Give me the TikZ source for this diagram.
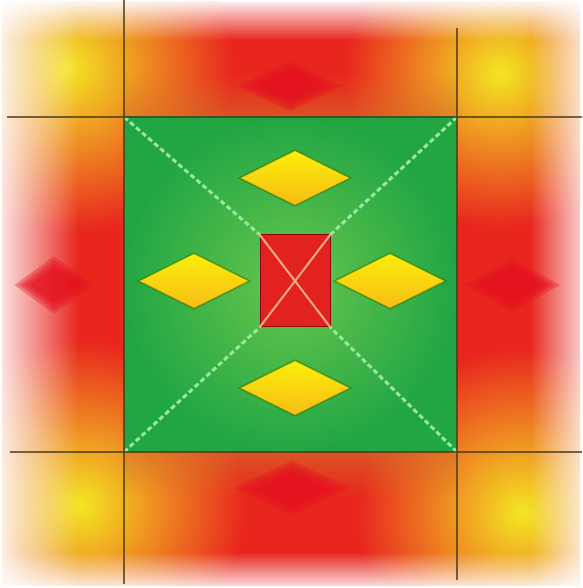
\documentclass[tikz,border=0pt]{standalone}
\usepackage{xcolor}
\usepackage{tikz}
\usetikzlibrary{shapes.geometric, fadings}

\definecolor{bandred}{RGB}{232,38,30}
\definecolor{bandorange}{RGB}{212,118,42}
\definecolor{cornyellow}{RGB}{244,230,36}
\definecolor{sqgreen}{RGB}{34,166,68}
\definecolor{sqlight}{RGB}{104,198,76}
\definecolor{diayellow}{RGB}{252,238,10}
\definecolor{diaorange}{RGB}{246,188,22}
\definecolor{markred}{RGB}{228,16,30}
\definecolor{corered}{RGB}{226,34,30}
\definecolor{xpale}{RGB}{246,172,128}
\definecolor{diagreen}{RGB}{150,232,160}
\definecolor{gridcol}{RGB}{70,58,24}

\tikzfading[name=whiteleft, left color=transparent!0, right color=transparent!100]
\tikzfading[name=whiteright, left color=transparent!100, right color=transparent!0]
\tikzfading[name=whitetop, top color=transparent!0, bottom color=transparent!100]
\tikzfading[name=whitebottom, top color=transparent!100, bottom color=transparent!0]

\begin{document}
\begin{tikzpicture}[x=1pt, y=1pt,
    square/.style={rectangle, inner sep=0pt, outer sep=0pt, minimum width=333pt, minimum height=335pt,
                   inner color=sqlight, outer color=sqgreen},
    core/.style={rectangle, inner sep=0pt, minimum width=70pt, minimum height=92pt,
                 fill=corered, draw=red!55!black, line width=1pt},
    gem/.style={diamond, inner sep=0pt, minimum width=112pt, minimum height=56pt,
                top color=diayellow, bottom color=diaorange,
                draw=green!35!black, draw opacity=0.45, line width=1.5pt},
    hotmark/.style={diamond, inner sep=0pt, fill=markred, fill opacity=0.35},
    gridline/.style={draw=gridcol, draw opacity=0.75, line width=2pt},
    diag/.style={draw=diagreen, line width=3pt, dash pattern=on 5pt off 3pt},
    cross/.style={draw=xpale, line width=2pt}
]
\useasboundingbox[fill=white] (0,0) rectangle (582,588);

% heat band round the square
\begin{scope}
  \clip (2,2) rectangle (580,586);
  \fill[bandred] (2,2) rectangle (580,586);
  \shade[inner color=cornyellow, outer color=bandred] (68,520) circle (165);
  \shade[inner color=cornyellow, outer color=bandred] (500,515) circle (155);
  \shade[inner color=cornyellow, outer color=bandred] (80,83) circle (165);
  \shade[inner color=cornyellow, outer color=bandred] (522,75) circle (165);
  \fill[bandorange, path fading=whitebottom, fill opacity=0.8] (124,450) rectangle (457,515);
  \fill[bandorange, path fading=whitetop, fill opacity=0.8] (124,90) rectangle (457,155);
\end{scope}

% soft outer edges
\fill[white, path fading=whiteleft] (-10,0) rectangle (78,588);
\fill[white, path fading=whiteright] (530,0) rectangle (595,588);
\fill[white, path fading=whitetop] (0,548) rectangle (582,590);
\fill[white, path fading=whitebottom] (0,-5) rectangle (582,36);

% blurred hot marks
\foreach \k in {1.2,1.05,0.9,0.75} {
  \node[hotmark, minimum width=\k*88pt, minimum height=\k*42pt] at (290,502) {};
  \node[hotmark, minimum width=\k*66pt, minimum height=\k*48pt] at (54,303) {};
  \node[hotmark, minimum width=\k*80pt, minimum height=\k*44pt] at (512,303) {};
  \node[hotmark, minimum width=\k*96pt, minimum height=\k*46pt] at (292,100) {};
}

% green square with core and four gems
\node[square] (sq) at (290.5,303.5) {};
\node[core] (core) at (295,307) {};
\draw[diag] (sq.north west) -- (core.north west);
\draw[diag] (sq.north east) -- (core.north east);
\draw[diag] (sq.south west) -- (core.south west);
\draw[diag] (sq.south east) -- (core.south east);
\draw[cross] (core.north west) -- (core.south east);
\draw[cross] (core.north east) -- (core.south west);

\node[gem] (gtop) at (295,410) {};
\node[gem] (gleft) at (194,307) {};
\node[gem] (gright) at (390,307) {};
\node[gem] (gbottom) at (295,200) {};

% grid lines
\draw[gridline] (124,588) -- (124,4);
\draw[gridline] (457,560) -- (457,8);
\draw[gridline] (7,471) -- (582,471);
\draw[gridline] (10,136) -- (582,136);
\end{tikzpicture}
\end{document}
